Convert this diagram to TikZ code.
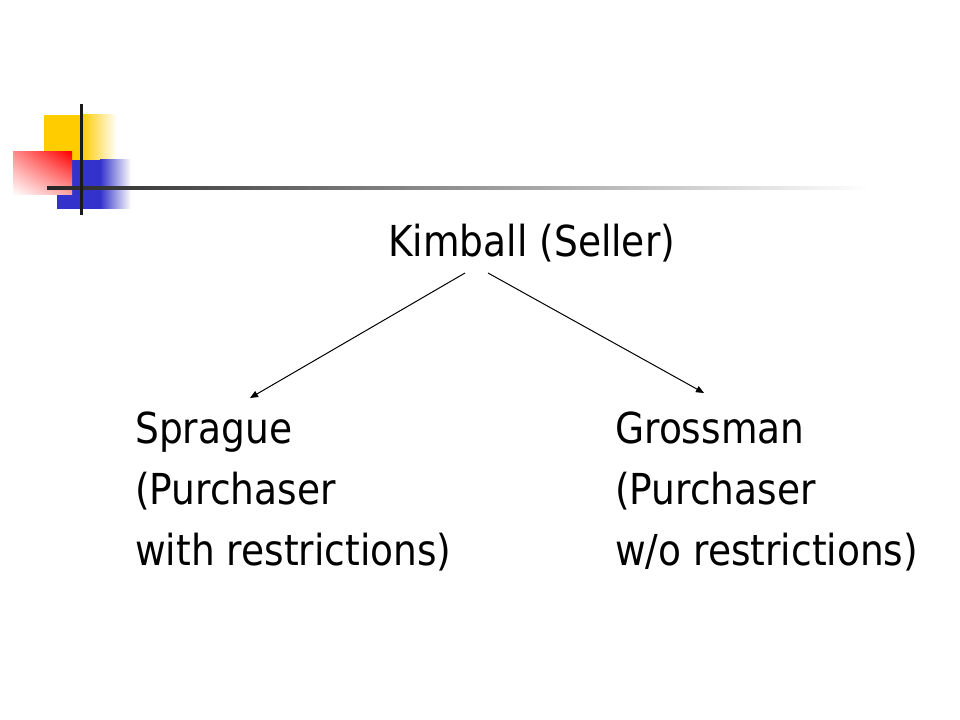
\documentclass[tikz,border=0pt]{standalone}
\usepackage{fontspec}
\setmainfont{DejaVu Sans}[FakeStretch=0.88]
\usetikzlibrary{arrows.meta,shadings}
\definecolor{decoyellow}{HTML}{FFCC00}
\definecolor{decoblue}{HTML}{3333CC}
\definecolor{decored}{HTML}{FF0000}
\definecolor{decoline}{HTML}{1A1A1A}
\begin{document}
\begin{tikzpicture}[x=0.75pt,y=-0.75pt,
  lbl/.style={anchor=base west,inner sep=0pt,font=\fontsize{32}{38}\selectfont},
  arr/.style={line width=0.75pt,-{Triangle[length=6pt,width=5pt]}}]
\useasboundingbox[fill=white] (0,0) rectangle (960,720);
% decoration
\fill[decoyellow] (44,115) rectangle (82,160);
\shade[left color=decoyellow,right color=white] (82,115) rectangle (117,160);
\fill[decoblue] (57,160) rectangle (100,209);
\shade[left color=decoblue,right color=white] (100,160) rectangle (131,209);
\shade[upper right=decored,upper left=decored!45!white,lower right=decored!35!white,lower left=white] (13,152) rectangle (72,195);
\shade[left color=black!85,right color=white] (47,186.5) rectangle (870,189.5);
\fill[decoline] (79.5,104) rectangle (82.5,215);
% text
\node[lbl] (kim) at (388,257) {Kimball (Seller)};
\node[lbl] (spr1) at (135,443) {Sprague};
\node[lbl] (spr2) at (135,504) {(Purchaser};
\node[lbl] (spr3) at (135,565) {with restrictions)};
\node[lbl] (gro1) at (615,443) {Grossman};
\node[lbl] (gro2) at (615,504) {(Purchaser};
\node[lbl] (gro3) at (615,565) {w/o restrictions)};
% connectors
\coordinate (ls) at (465,273);
\coordinate (le) at (250,398);
\coordinate (rs) at (488,273);
\coordinate (re) at (704,393);
\draw[arr] (ls) -- (le);
\draw[arr] (rs) -- (re);
\end{tikzpicture}
\end{document}
